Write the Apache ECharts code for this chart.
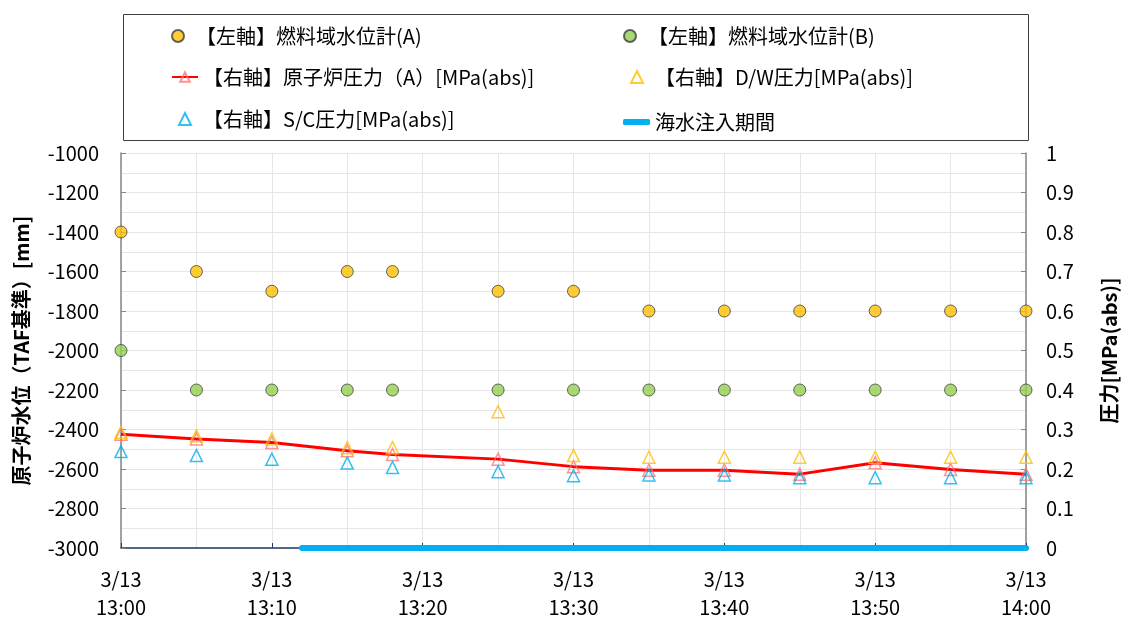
<!DOCTYPE html>
<html>
<head>
<meta charset="utf-8">
<script src="https://cdn.jsdelivr.net/npm/echarts@6/dist/echarts.min.js"></script>
<style>
  html, body { margin: 0; padding: 0; background: #fff; }
  #main { width: 1125px; height: 619px; }
</style>
</head>
<body>
<div id="main"></div>
<script>
// 時刻 (3/13)
const times = ["13:00", "13:05", "13:10", "13:15", "13:18", "13:25", "13:30",
  "13:35", "13:40", "13:45", "13:50", "13:55", "14:00"];
// 燃料域水位計 [mm]
const levelA = [-1400, -1600, -1700, -1600, -1600, -1700, -1700, -1800, -1800, -1800, -1800, -1800, -1800];
const levelB = [-2000, -2200, -2200, -2200, -2200, -2200, -2200, -2200, -2200, -2200, -2200, -2200, -2200];
// 圧力 [MPa(abs)]
const rpvPressure = [0.288, 0.276, 0.267, 0.246, 0.237, 0.225, 0.206, 0.197, 0.197, 0.187, 0.216, 0.199, 0.187];
const dwPressure = [0.293, 0.284, 0.276, 0.254, 0.254, 0.345, 0.234, 0.230, 0.230, 0.230, 0.230, 0.230, 0.230];
const scPressure = [0.244, 0.234, 0.225, 0.215, 0.204, 0.193, 0.183, 0.185, 0.185, 0.178, 0.178, 0.178, 0.178];
// 海水注入期間
const seawaterTimes = ["13:12", "14:00"];
const seawaterLevel = [-3000, -3000];

const names = {
  a: "【左軸】燃料域水位計(A)",
  b: "【左軸】燃料域水位計(B)",
  rpv: "【右軸】原子炉圧力（A）[MPa(abs)]",
  dw: "【右軸】D/W圧力[MPa(abs)]",
  sc: "【右軸】S/C圧力[MPa(abs)]",
  sea: "海水注入期間"
};

const FONT = "Noto Sans CJK JP";

function toMin(t) {
  const p = t.split(":");
  return (+p[0] - 13) * 60 + (+p[1]);
}
function pairs(ts, vs) {
  return ts.map((t, i) => [toMin(t), vs[i]]);
}
function pad(n) {
  return n < 10 ? "0" + n : "" + n;
}

// one legend per item so the two columns sit where the original puts them
function legendAt(item, left, top, w, h, textPad) {
  return {
    data: [item],
    left: left,
    top: top,
    padding: 0,
    itemWidth: w,
    itemHeight: h,
    selectedMode: false,
    textStyle: { fontFamily: FONT, fontSize: 20, color: "#000", padding: [0, 0, 0, textPad || 0] }
  };
}

const chart = echarts.init(document.getElementById("main"));

const gridColor = "#e6e6e6";

chart.setOption({
  animation: false,
  textStyle: { fontFamily: FONT },
  graphic: [{
    type: "rect",
    shape: { x: 123.5, y: 14.5, width: 905, height: 126 },
    style: { fill: "none", stroke: "#404040", lineWidth: 1 }
  }],
  legend: [
    legendAt(names.a, 171, 26, 26, 12),
    legendAt(names.rpv, 171, 67, 26, 12),
    legendAt(names.sc, 178, 109, 12, 12, 7),
    legendAt(names.b, 623, 26, 26, 12),
    legendAt(names.dw, 630, 67, 12, 12, 7),
    legendAt({ name: names.sea, icon: "roundRect" }, 623, 112, 27, 6)
  ],
  grid: { left: 121, right: 99, top: 153, bottom: 71, outerBoundsMode: "none" },
  xAxis: {
    type: "value",
    min: 0,
    max: 60,
    interval: 10,
    axisLine: { onZero: false, lineStyle: { color: "#1f3864", width: 1.5 } },
    axisTick: { inside: true, length: 5, lineStyle: { color: "#1f3864" } },
    minorTick: { show: false, splitNumber: 2 },
    splitLine: { show: true, lineStyle: { color: gridColor } },
    minorSplitLine: { show: true, lineStyle: { color: gridColor } },
    axisLabel: {
      margin: 17,
      fontSize: 20,
      lineHeight: 28,
      color: "#000",
      formatter: v => "3/13\n" + (13 + Math.floor(v / 60)) + ":" + pad(v % 60)
    }
  },
  yAxis: [{
    type: "value",
    min: -3000,
    max: -1000,
    interval: 200,
    name: "原子炉水位（TAF基準）[mm]",
    nameLocation: "middle",
    nameRotate: 90,
    nameGap: 90,
    nameTextStyle: { fontSize: 20, fontWeight: "bold", color: "#000" },
    axisLine: { show: true, lineStyle: { color: "#868686", width: 1.5 } },
    axisTick: { show: true, inside: true, length: 5, lineStyle: { color: "#868686" } },
    minorTick: { show: false, splitNumber: 2 },
    splitLine: { show: true, lineStyle: { color: gridColor } },
    minorSplitLine: { show: true, lineStyle: { color: gridColor } },
    axisLabel: { margin: 22, fontSize: 20, color: "#000", formatter: v => String(v) }
  }, {
    type: "value",
    min: 0,
    max: 1,
    interval: 0.1,
    name: "圧力[MPa(abs)]",
    nameLocation: "middle",
    nameRotate: 90,
    nameGap: 73,
    nameTextStyle: { fontSize: 20, fontWeight: "bold", color: "#000" },
    axisLine: { show: true, lineStyle: { color: "#868686", width: 1.5 } },
    axisTick: { show: true, inside: true, length: 5, lineStyle: { color: "#868686" } },
    splitLine: { show: false },
    axisLabel: { margin: 20, fontSize: 20, color: "#000", formatter: v => String(+v.toFixed(1)) }
  }],
  series: [{
    name: names.a,
    type: "scatter",
    yAxisIndex: 0,
    symbol: "circle",
    symbolSize: 12,
    itemStyle: { color: "#FFC000", borderColor: "#404040", borderWidth: 1 },
    data: pairs(times, levelA),
    z: 5
  }, {
    name: names.b,
    type: "scatter",
    yAxisIndex: 0,
    symbol: "circle",
    symbolSize: 12,
    itemStyle: { color: "#92D050", borderColor: "#404040", borderWidth: 1 },
    data: pairs(times, levelB),
    z: 5
  }, {
    name: names.rpv,
    type: "line",
    yAxisIndex: 1,
    symbol: "triangle",
    symbolSize: 12,
    showSymbol: true,
    lineStyle: { color: "#FF0000", width: 3 },
    itemStyle: { color: "rgba(0,0,0,0)", borderColor: "rgba(255,110,110,0.75)", borderWidth: 1.5 },
    data: pairs(times, rpvPressure),
    z: 3
  }, {
    name: names.dw,
    type: "scatter",
    yAxisIndex: 1,
    symbol: "triangle",
    symbolSize: 12,
    itemStyle: { color: "rgba(0,0,0,0)", borderColor: "#FFC000", borderWidth: 1.5 },
    data: pairs(times, dwPressure),
    z: 4
  }, {
    name: names.sc,
    type: "scatter",
    yAxisIndex: 1,
    symbol: "triangle",
    symbolSize: 12,
    itemStyle: { color: "rgba(0,0,0,0)", borderColor: "#00B0F0", borderWidth: 1.5 },
    data: pairs(times, scPressure),
    z: 4
  }, {
    name: names.sea,
    type: "line",
    yAxisIndex: 0,
    symbol: "none",
    lineStyle: { color: "#00B0F0", width: 6, cap: "round" },
    itemStyle: { color: "#00B0F0" },
    data: pairs(seawaterTimes, seawaterLevel),
    z: 6
  }]
});
</script>
</body>
</html>
